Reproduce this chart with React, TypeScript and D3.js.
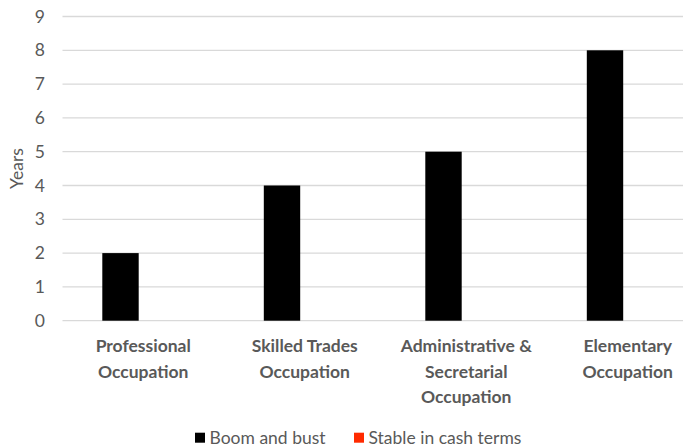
import React from "react";
import * as d3 from "d3";

const categories = [
  ["Professional", "Occupation"],
  ["Skilled Trades", "Occupation"],
  ["Administrative &", "Secretarial", "Occupation"],
  ["Elementary", "Occupation"],
];
const categoryKeys = ["Professional Occupation", "Skilled Trades Occupation", "Administrative & Secretarial Occupation", "Elementary Occupation"];
const seriesNames = ["Boom and bust", "Stable in cash terms"];
const boomAndBust = [2, 4, 5, 8];
const stableInCashTerms = [0, 0, 0, 0];
const yTicks = [0, 1, 2, 3, 4, 5, 6, 7, 8, 9];
const colors = ["#000000", "#ff2a00"];

const W = 683;
const H = 448;
const FONT = "Lato, 'Open Sans', sans-serif";
const TEXT = "#595959";
const FS = 17.5;

export default function App() {
  const x0 = d3.scaleBand<string>().domain(categoryKeys).range([62.5, 708.5]).padding(0);
  const x1 = d3
    .scaleBand<string>()
    .domain(seriesNames)
    .range([0, x0.bandwidth()])
    .paddingInner(0.2)
    .paddingOuter(0.875);
  const y = d3.scaleLinear().domain([0, 9]).range([320.7, 16.5]);
  const values = [boomAndBust, stableInCashTerms];

  return (
    <div style={{ position: "fixed", left: 0, top: 0 }}>
      <svg width={W} height={H} style={{ display: "block", background: "#fff" }}>
        {yTicks.map((t) => (
          <g key={t}>
            <line x1={62.5} x2={W} y1={y(t)} y2={y(t)} stroke="#d9d9d9" strokeWidth={1.3} />
            <text x={45} y={y(t)} dy="0.35em" textAnchor="end" fontFamily={FONT} fontSize={FS} fill={TEXT}>
              {t}
            </text>
          </g>
        ))}
        <text
          transform={`translate(23,${(y(0) + y(9)) / 2}) rotate(-90)`}
          textAnchor="middle"
          fontFamily={FONT}
          fontSize={FS}
          fill={TEXT}
        >
          Years
        </text>
        {categoryKeys.map((c, ci) =>
          seriesNames.map((s, si) => {
            const v = values[si][ci];
            return (
              <rect
                key={c + s}
                x={(x0(c) ?? 0) + (x1(s) ?? 0)}
                y={y(v)}
                width={x1.bandwidth()}
                height={y(0) - y(v)}
                fill={colors[si]}
              />
            );
          })
        )}
        {categoryKeys.map((c, ci) => (
          <text
            key={c}
            textAnchor="middle"
            fontFamily={FONT}
            fontWeight="bold"
            fontSize={FS}
            fill={TEXT}
          >
            {categories[ci].map((line, li) => (
              <tspan key={li} x={(x0(c) ?? 0) + x0.bandwidth() / 2} y={351.8 + li * 25.7}>
                {line}
              </tspan>
            ))}
          </text>
        ))}
        {seriesNames.map((s, si) => {
          const lx = [195, 354][si];
          return (
            <g key={s}>
              <rect x={lx} y={432.7} width={10} height={10} fill={colors[si]} />
              <text x={lx + 14.5} y={443.8} fontFamily={FONT} fontSize={FS} fill={TEXT}>
                {s}
              </text>
            </g>
          );
        })}
      </svg>
    </div>
  );
}
